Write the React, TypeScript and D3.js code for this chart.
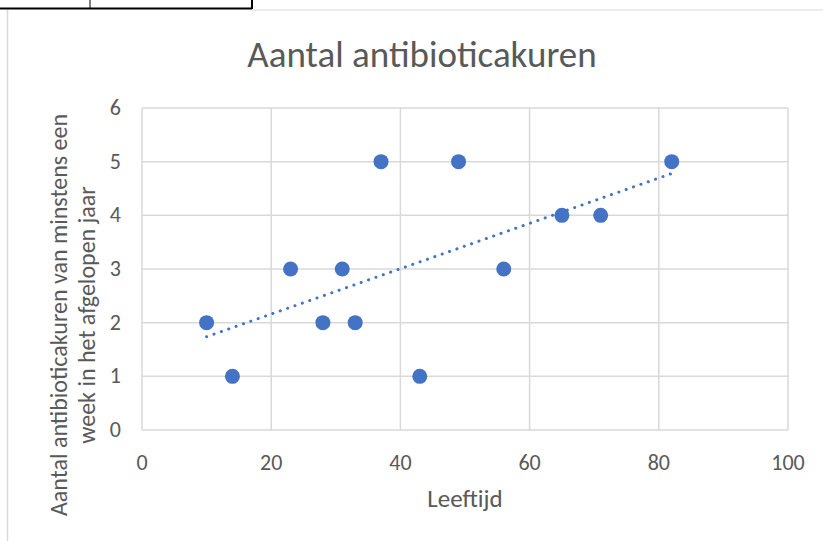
import React, { useEffect, useRef } from 'react';
import * as d3 from 'd3';

// Leeftijd (age) and number of antibiotic courses
const ages = [10, 14, 23, 28, 31, 33, 37, 43, 49, 56, 65, 71, 82];
const courses = [2, 1, 3, 2, 3, 2, 5, 1, 5, 3, 4, 4, 5];
const xTicks = [0, 20, 40, 60, 80, 100];
const yTicks = [0, 1, 2, 3, 4, 5, 6];

const FONT = "Carlito, Calibri, 'Open Sans', sans-serif";

const App: React.FC = () => {
  const svgRef = useRef<SVGSVGElement>(null);

  useEffect(() => {
    if (!svgRef.current) return;
    const svg = d3.select(svgRef.current);
    svg.selectAll('*').remove();

    const width = 823;
    const height = 541;
    const plot = { left: 142, right: 788, top: 108, bottom: 430 };

    svg.append('rect').attr('width', width).attr('height', height).attr('fill', '#fff');

    // spreadsheet cell borders behind the chart
    svg.append('line').attr('x1', 0).attr('x2', 252).attr('y1', 8.5).attr('y2', 8.5)
      .attr('stroke', '#000').attr('stroke-width', 2);
    [90, 252].forEach(cx => {
      svg.append('line').attr('x1', cx).attr('x2', cx).attr('y1', 0).attr('y2', 9)
        .attr('stroke', '#000').attr('stroke-width', cx === 90 ? 1 : 2);
    });
    svg.append('line').attr('x1', 252).attr('x2', width).attr('y1', 10).attr('y2', 10)
      .attr('stroke', '#d9d9d9').attr('stroke-width', 1);
    svg.append('line').attr('x1', 7.5).attr('x2', 7.5).attr('y1', 10).attr('y2', height)
      .attr('stroke', '#d9d9d9').attr('stroke-width', 1.5);

    const x = d3.scaleLinear().domain([0, 100]).range([plot.left, plot.right]);
    const y = d3.scaleLinear().domain([0, 6]).range([plot.bottom, plot.top]);

    // gridlines
    svg.append('g').selectAll('line.h').data(yTicks).enter().append('line')
      .attr('x1', plot.left).attr('x2', plot.right)
      .attr('y1', d => y(d)).attr('y2', d => y(d))
      .attr('stroke', '#d9d9d9').attr('stroke-width', 1.5);
    svg.append('g').selectAll('line.v').data(xTicks).enter().append('line')
      .attr('x1', d => x(d)).attr('x2', d => x(d))
      .attr('y1', plot.top).attr('y2', plot.bottom)
      .attr('stroke', '#d9d9d9').attr('stroke-width', 1.5);

    // tick labels
    svg.append('g').selectAll('text').data(xTicks).enter().append('text')
      .attr('x', d => x(d)).attr('y', 470)
      .attr('text-anchor', 'middle')
      .style('font-family', FONT).style('font-size', '22px').style('fill', '#595959')
      .text(d => d);
    svg.append('g').selectAll('text').data(yTicks).enter().append('text')
      .attr('x', 121).attr('y', d => y(d) + 7)
      .attr('text-anchor', 'end')
      .style('font-family', FONT).style('font-size', '22px').style('fill', '#595959')
      .text(d => d);

    // linear trendline (least squares)
    const mx = d3.mean(ages) as number;
    const my = d3.mean(courses) as number;
    const slope = d3.sum(ages, (a, i) => (a - mx) * (courses[i] - my)) /
      d3.sum(ages, a => (a - mx) ** 2);
    const icpt = my - slope * mx;
    const ext = d3.extent(ages) as [number, number];
    const line = d3.line<number>().x(d => x(d)).y(d => y(icpt + slope * d));
    svg.append('path')
      .attr('d', line(ext))
      .attr('fill', 'none')
      .attr('stroke', '#4472c4')
      .attr('stroke-width', 3)
      .attr('stroke-linecap', 'round')
      .attr('stroke-dasharray', '0.1 7.7');

    // points
    svg.append('g').selectAll('circle').data(ages).enter().append('circle')
      .attr('cx', d => x(d))
      .attr('cy', (d, i) => y(courses[i]))
      .attr('r', 7.5)
      .attr('fill', '#4472c4');

    // title
    svg.append('text')
      .attr('x', 422).attr('y', 67)
      .attr('text-anchor', 'middle')
      .style('font-family', FONT).style('font-size', '37px').style('fill', '#595959')
      .text('Aantal antibioticakuren');

    // axis titles
    svg.append('text')
      .attr('x', 465).attr('y', 507)
      .attr('text-anchor', 'middle')
      .style('font-family', FONT).style('font-size', '25px').style('fill', '#595959')
      .text('Leeftijd');

    const yTitle = svg.append('text')
      .attr('transform', 'translate(0,315) rotate(-90)')
      .attr('text-anchor', 'middle')
      .style('font-family', FONT).style('font-size', '24px').style('fill', '#595959');
    yTitle.append('tspan').attr('x', 0).attr('y', 67)
      .text('Aantal antibioticakuren van minstens een');
    yTitle.append('tspan').attr('x', 0).attr('y', 95)
      .text('week in het afgelopen jaar');
  }, []);

  return <svg ref={svgRef} width={823} height={541} style={{ display: 'block', position: 'absolute', left: 0, top: 0 }}></svg>;
};

export default App;
